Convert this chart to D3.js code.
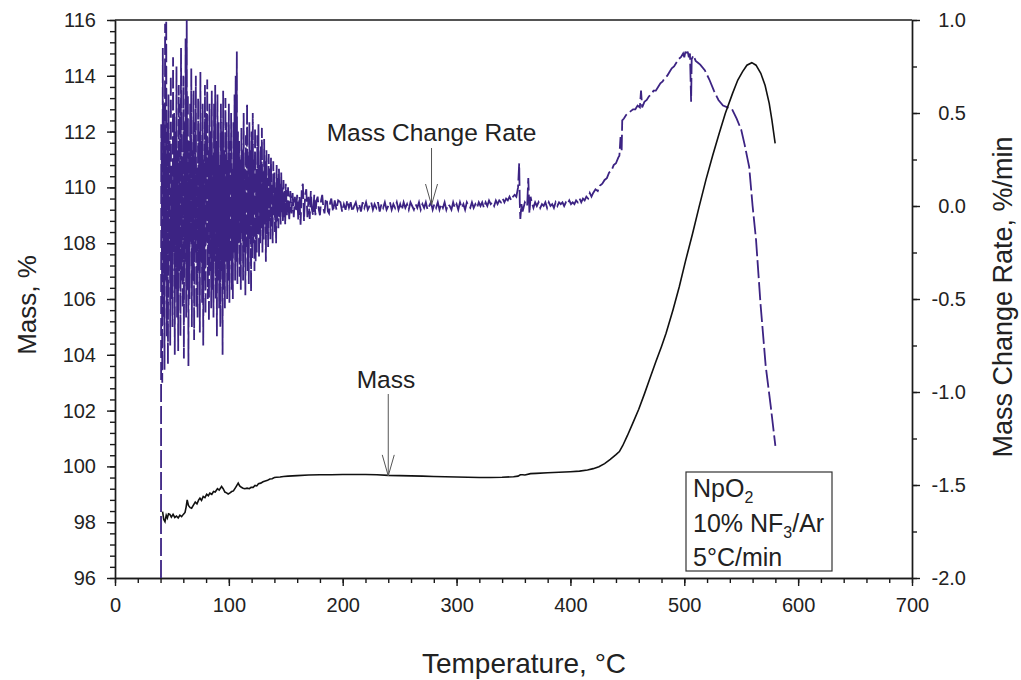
<!DOCTYPE html>
<html>
<head>
<meta charset="utf-8">
<script src="https://cdn.jsdelivr.net/npm/d3@7"></script>
<style>
  body { margin: 0; background: #fff; }
  svg { font-family: Arial, "Liberation Sans", sans-serif; }
  .axis path, .axis line { stroke: #1a1a1a; stroke-width: 1.4px; }
  .axis text { font-size: 20px; fill: #222; font-family: Arial, "Liberation Sans", sans-serif; }
</style>
</head>
<body>
<div id="chart"></div>
<script>
// temperature (°C), mass (%)
const massData = [
  [41.8, 98.38], [42.8, 98.10], [43.9, 98.02], [45, 98.25], [46, 98.15], [47, 98.30], [48.2, 98.28],
  [49.5, 98.18], [51, 98.28], [52.5, 98.17], [54, 98.22], [55.5, 98.15], [57, 98.25], [58.5, 98.20],
  [60, 98.28], [61.5, 98.35], [62.5, 98.55], [63.4, 98.80], [64.5, 98.60], [66, 98.52], [67.3, 98.50],
  [69, 98.62], [70.5, 98.72], [72, 98.66], [73.5, 98.80], [74.6, 98.86], [76, 98.78], [77.5, 98.92],
  [79, 98.88], [80.5, 99.00], [82, 98.95], [83.3, 99.04], [85, 99.00], [86.5, 99.10], [88, 99.08],
  [90, 99.20], [91.5, 99.15], [93.6, 99.28], [95, 99.20], [96.5, 99.08], [98, 99.05], [99.4, 99.01],
  [101, 99.05], [102.5, 99.10], [104, 99.12], [106, 99.25], [108.2, 99.40], [109.5, 99.30], [111, 99.25],
  [112.5, 99.22], [114, 99.20], [116, 99.22], [118, 99.20], [119.5, 99.25], [121.3, 99.25], [123, 99.32],
  [124.5, 99.30], [126, 99.38], [128, 99.40], [130, 99.45], [132, 99.48], [134, 99.50], [136, 99.55],
  [138, 99.56], [140, 99.60], [142, 99.61], [145, 99.62], [148, 99.64], [152, 99.65], [156, 99.66],
  [160, 99.67], [170, 99.69], [180, 99.70], [190, 99.70], [200, 99.71], [210, 99.71], [220, 99.71],
  [230, 99.70], [240, 99.68], [250, 99.67], [260, 99.66], [270, 99.65], [280, 99.64], [290, 99.63],
  [300, 99.62], [310, 99.61], [320, 99.60], [330, 99.60], [340, 99.61], [350, 99.63], [354, 99.65],
  [356, 99.70], [358, 99.70], [360, 99.69], [365, 99.74], [370, 99.75], [380, 99.77], [390, 99.79],
  [400, 99.81], [408, 99.83], [415, 99.87], [420, 99.92], [425, 99.99], [430, 100.10], [435, 100.25],
  [440, 100.42], [443, 100.53], [446, 100.75], [450, 101.10], [454.7, 101.54], [460, 102.05],
  [465, 102.60], [469.3, 103.10], [475, 103.75], [480, 104.30], [484, 104.77], [490, 105.60],
  [495.6, 106.44], [501, 107.35], [507.3, 108.35], [513, 109.30], [519, 110.27], [525, 111.15],
  [530.7, 111.94], [536, 112.65], [542.4, 113.37], [547, 113.85], [551.2, 114.15], [555, 114.38],
  [559.3, 114.47], [563, 114.38], [567.2, 114.09], [571, 113.65], [574.6, 113.01], [577, 112.40],
  [579.8, 111.58]
];

// temperature (°C), mass change rate (%/min) - noisy start
const rateNoise = [
  [40.4, -2.0], [40.6, 0.44], [41, 0.30], [41.5, -0.95], [42, 0.85], [42.5, -0.60], [43, 0.55], [43.5, -0.88],
  [44, 0.98], [44.5, -0.40], [45, 1.00], [45.5, -0.70], [46, 0.45], [46.5, -0.85], [47, 0.60], [47.5, -0.30],
  [48, 0.35], [48.5, -0.75], [49, 0.70], [49.5, -0.50], [50, 0.20], [50.5, -0.65], [51, 0.80], [51.5, -0.25],
  [52, 0.50], [52.5, -0.80], [53, 0.40], [53.5, -0.45], [54, 0.75], [54.5, -0.60], [55, 0.30], [55.5, -0.78],
  [56, 0.65], [56.5, -0.35], [57, 0.55], [57.5, -0.70], [58, 0.85], [58.5, -0.40], [59, 0.25], [59.5, -0.55],
  [60, 0.70], [60.5, -0.82], [61, 0.45], [61.5, -0.30], [62, 0.90], [62.5, -0.60], [63, 1.00], [63.5, -0.45],
  [64, 0.60], [64.5, -0.86], [65, 0.35], [65.5, -0.50], [66, 0.55], [66.5, -0.20], [67, 0.74], [67.5, -0.65],
  [68, 0.30], [68.5, -0.40], [69, 0.62], [69.5, -0.72], [70, 0.45], [70.5, -0.25], [71, 0.70], [71.5, -0.55],
  [72, 0.20], [72.5, -0.60], [73, 0.58], [73.5, -0.35], [74, 0.40], [74.5, -0.68], [75, 0.72], [75.5, -0.30],
  [76, 0.35], [76.5, -0.52], [77, 0.55], [77.5, -0.75], [78, 0.25], [78.5, -0.40], [79, 0.65], [79.5, -0.58],
  [80, 0.50], [80.5, -0.20], [81, 0.68], [81.5, -0.50], [82, 0.30], [82.5, -0.62], [83, 0.55], [83.5, -0.35],
  [84, 0.40], [84.5, -0.55], [85, 0.62], [85.5, -0.45], [86, 0.28], [86.5, -0.60], [87, 0.55], [87.5, -0.30],
  [88, 0.65], [88.5, -0.50], [89, 0.35], [89.5, -0.70], [90, 0.60], [90.5, -0.40], [91, 0.45], [91.5, -0.55],
  [92, 0.22], [92.5, -0.65], [93, 0.55], [93.5, -0.35], [94, 0.40], [94.5, -0.80], [95, 0.62], [95.5, -0.45],
  [96, 0.30], [96.5, -0.55], [97, 0.58], [97.5, -0.30], [98, 0.45], [98.5, -0.50], [99, 0.25], [99.5, -0.40],
  [100, 0.55], [100.5, -0.52], [101, 0.35], [101.5, -0.30], [102, 0.50], [102.5, -0.45], [103, 0.20], [103.5, -0.50],
  [104, 0.45], [104.5, -0.25], [105, 0.60], [105.5, -0.40], [106, 0.70], [106.5, -0.30], [107, 0.83], [107.5, -0.42],
  [108, 0.40], [108.5, -0.20], [109, 0.35], [109.5, -0.38], [110, 0.25], [110.5, -0.45], [111, 0.42], [111.5, -0.15],
  [112, 0.30], [112.5, -0.40], [113, 0.50], [113.5, -0.25], [114, 0.20], [114.5, -0.48], [115, 0.38], [115.5, -0.22],
  [116, 0.55], [116.5, -0.35], [117, 0.28], [117.5, -0.42], [118, 0.45], [118.5, -0.18], [119, 0.30], [119.5, -0.46],
  [120, 0.40], [120.5, -0.28], [121, 0.50], [121.5, -0.20], [122, 0.25], [122.5, -0.35], [123, 0.42], [123.5, -0.30],
  [124, 0.20], [124.5, -0.25], [125, 0.38], [125.5, -0.15], [126, 0.44], [126.5, -0.28], [127, 0.22], [127.5, -0.20],
  [128, 0.32], [128.5, -0.12], [129, 0.42], [129.5, -0.25], [130, 0.18], [130.5, -0.18], [131, 0.36], [131.5, -0.10],
  [132, 0.24], [132.5, -0.30], [133, 0.30], [133.5, -0.15], [134, 0.15], [134.5, -0.22], [135, 0.28], [135.5, -0.08],
  [136, 0.20], [136.5, -0.18], [137, 0.26], [137.5, -0.12], [138, 0.12], [138.5, -0.20], [139, 0.24], [139.5, -0.05],
  [140, 0.18], [140.5, -0.14], [141, 0.10], [141.5, -0.20], [142, 0.22], [142.5, -0.08], [143, 0.15], [143.5, -0.12],
  [144, 0.20], [144.5, -0.06], [145, 0.12], [145.5, -0.10], [146, 0.18], [146.5, -0.04], [147, 0.10], [147.5, -0.08],
  [148, 0.14], [148.5, -0.06], [149, 0.08], [149.5, -0.10], [150, 0.12], [151, -0.05], [152, 0.10], [153, -0.08],
  [154, 0.08], [155, -0.04], [156, 0.07], [157, -0.06], [158, 0.05], [159, -0.03], [160, 0.06], [161, -0.08],
  [162, 0.05], [163, -0.10], [164, 0.09], [165, 0.12], [166, -0.08], [167, 0.06], [168, 0.09], [169, -0.06],
  [170, 0.05], [171, -0.07], [172, 0.08], [173, -0.02], [174, -0.05], [175, 0.06], [176, -0.05], [177, 0.03],
  [178, 0.05], [179, -0.02], [180, -0.05], [181, 0.03], [182, 0.06], [183, -0.01], [184, -0.04], [185, 0.03],
  [186, 0.04], [187, -0.03], [188, -0.04], [189, 0.02], [190, 0.04], [191.5, -0.03], [193, 0.03], [194.5, -0.02],
  [196, 0.03]
];

// temperature (°C), mass change rate (%/min) - flat run, spikes and the reaction peak
const rateMain = [
  [198, 0.02], [199.5, -0.03], [201, 0.01], [202.5, -0.02], [204, 0.03], [205.5, -0.01], [207, 0.02], [208.5, -0.03],
  [210, 0.00], [211.5, 0.02], [213, -0.02], [214.5, 0.01], [216, -0.03], [217.5, 0.02], [219, -0.01], [220.5, 0.02],
  [222, -0.02], [223.5, 0.00], [225, 0.02], [226.5, -0.02], [228, 0.01], [229.5, -0.01], [231, 0.02], [232.5, -0.03],
  [234, 0.01], [235.5, -0.01], [237, 0.02], [238.5, -0.02], [240, 0.00], [241.5, 0.02], [243, -0.02], [244.5, 0.01],
  [246, -0.01], [247.5, 0.02], [249, -0.02], [250.5, 0.01], [252, -0.02], [253.5, 0.02], [255, -0.01], [256.5, 0.01],
  [258, -0.02], [259.5, 0.02], [261, 0.00], [262.5, -0.02], [264, 0.01], [265.5, -0.01], [267, 0.02], [268.5, -0.02],
  [270, 0.01], [271.5, -0.01], [273, 0.02], [274.5, -0.02], [276, 0.00], [277.5, 0.02], [279, -0.02], [280.5, 0.01],
  [282, -0.01], [283.5, 0.02], [285, -0.02], [286.5, 0.01], [288, -0.01], [289.5, 0.02], [291, -0.02], [292.5, 0.01],
  [294, 0.00], [295.5, -0.02], [297, 0.02], [298.5, -0.01], [300, 0.01], [301.5, -0.02], [303, 0.02], [304.5, -0.01],
  [306, 0.01], [307.5, -0.02], [309, 0.02], [310.5, 0.00], [312, -0.01], [313.5, 0.02], [315, -0.01], [316.5, 0.01],
  [318, -0.01], [319.5, 0.02], [321, 0.00], [322.5, 0.02], [324, -0.01], [325.5, 0.02], [327, 0.00], [328.5, 0.03],
  [330, 0.01], [331.5, 0.02], [333, 0.00], [334.5, 0.03], [336, 0.01], [337.5, 0.03], [339, 0.02], [340.5, 0.04],
  [342, 0.02], [343.5, 0.04], [345, 0.03], [346.5, 0.05], [348, 0.03], [349.5, 0.05], [351, 0.06], [352.5, 0.05],
  [354, 0.10], [355, 0.23], [355.5, 0.02], [356, -0.07], [357, 0.01], [358, -0.03], [360, 0.02], [362, 0.00],
  [363, 0.15], [364, -0.04], [365, 0.05], [366, 0.02], [367.5, -0.01], [369, 0.02], [370.5, 0.00], [372, 0.02],
  [373.5, -0.01], [375, 0.01], [376.5, 0.00], [378, 0.02], [379.5, -0.01], [381, 0.02], [382.5, 0.00], [384, 0.01],
  [385.5, -0.01], [387, 0.02], [388.5, 0.00], [390, 0.02], [391.5, 0.01], [393, 0.02], [394.5, 0.00], [396, 0.02],
  [397.5, 0.01], [399, 0.03], [400.5, 0.01], [402, 0.02], [403.5, 0.01], [405, 0.03], [406.5, 0.02], [408, 0.04],
  [409.5, 0.02], [411, 0.04], [412.5, 0.03], [414, 0.05], [415.5, 0.04], [417, 0.07], [418.5, 0.05], [420, 0.07],
  [422, 0.09], [424, 0.08], [426, 0.11], [428, 0.12], [430, 0.14], [432, 0.15], [434, 0.18], [436, 0.19],
  [438, 0.22], [440, 0.23], [442, 0.26], [443, 0.27], [444, 0.37], [445, 0.30], [445.5, 0.46], [447, 0.47],
  [449, 0.49], [451, 0.50], [453, 0.51], [455, 0.52], [457, 0.52], [459, 0.54], [461, 0.53], [462, 0.62],
  [463, 0.53], [465, 0.56], [467, 0.57], [469, 0.59], [471, 0.60], [473, 0.62], [475, 0.62], [477, 0.64],
  [479, 0.66], [481, 0.67], [483, 0.69], [485, 0.70], [487, 0.72], [489, 0.74], [491, 0.75], [493, 0.77],
  [495, 0.79], [497, 0.80], [499, 0.82], [500, 0.80], [501, 0.83], [502, 0.81], [503, 0.83], [504, 0.80],
  [505, 0.82], [506, 0.56], [506.5, 0.79], [508, 0.81], [510, 0.78], [512, 0.77], [514, 0.76], [518, 0.73],
  [522, 0.68], [526, 0.62], [530, 0.57], [534, 0.54], [538, 0.53], [542, 0.52], [546, 0.47], [550, 0.41],
  [553, 0.33], [556, 0.24], [557, 0.21], [560, 0.00], [563, -0.18], [567, -0.53], [571.5, -0.86], [576, -1.08],
  [580, -1.29]
];

const xTicks = [0, 100, 200, 300, 400, 500, 600, 700];
const massTicks = [96, 98, 100, 102, 104, 106, 108, 110, 112, 114, 116];
const rateTicks = [-2.0, -1.5, -1.0, -0.5, 0.0, 0.5, 1.0];
const legendLines = [["NpO", "2", ""], ["10% NF", "3", "/Ar"], ["5°C/min", "", ""]];

const W = 1021, H = 680;
const plotL = 115, plotR = 912, plotT = 20, plotB = 578;

const svg = d3.select('#chart').append('svg')
  .attr('width', W)
  .attr('height', H);

const x = d3.scaleLinear().domain([0, 700]).range([plotL, plotR]);
const yMass = d3.scaleLinear().domain([96, 116]).range([plotB, plotT]);
const yRate = d3.scaleLinear().domain([-2, 1]).range([plotB, plotT]);

svg.append('clipPath').attr('id', 'plot-clip')
  .append('rect')
  .attr('x', plotL).attr('y', plotT)
  .attr('width', plotR - plotL).attr('height', plotB - plotT);

// minor ticks
svg.append('g').attr('class', 'axis')
  .attr('transform', `translate(0,${plotB})`)
  .call(d3.axisBottom(x).tickValues(d3.range(0, 701, 20)).tickSize(5).tickSizeOuter(0).tickFormat(''));
svg.append('g').attr('class', 'axis')
  .attr('transform', `translate(${plotL},0)`)
  .call(d3.axisLeft(yMass).tickValues(d3.range(96, 116.01, 0.4)).tickSize(5).tickSizeOuter(0).tickFormat(''));
svg.append('g').attr('class', 'axis')
  .attr('transform', `translate(${plotR},0)`)
  .call(d3.axisRight(yRate).tickValues(d3.range(-2, 1.01, 0.25)).tickSize(5).tickSizeOuter(0).tickFormat(''));

// major ticks
const xAxis = svg.append('g').attr('class', 'axis')
  .attr('transform', `translate(0,${plotB})`)
  .call(d3.axisBottom(x).tickValues(xTicks).tickSize(8).tickSizeOuter(0).tickPadding(12));
xAxis.selectAll('text').attr('dy', '0.71em');

svg.append('g').attr('class', 'axis')
  .attr('transform', `translate(${plotL},0)`)
  .call(d3.axisLeft(yMass).tickValues(massTicks).tickSize(8).tickSizeOuter(0).tickPadding(11).tickFormat(d3.format('d')));

svg.append('g').attr('class', 'axis')
  .attr('transform', `translate(${plotR},0)`)
  .call(d3.axisRight(yRate).tickValues(rateTicks).tickSize(8).tickSizeOuter(0).tickPadding(0)
    .tickFormat(d => d.toFixed(1)))
  .selectAll('text')
  .attr('text-anchor', 'end')
  .attr('x', 54);

// top frame line
svg.append('line')
  .attr('x1', plotL).attr('x2', plotR)
  .attr('y1', plotT).attr('y2', plotT)
  .attr('stroke', '#1a1a1a').attr('stroke-width', 1.4);

const plot = svg.append('g').attr('clip-path', 'url(#plot-clip)');

const massLine = d3.line().x(d => x(d[0])).y(d => yMass(d[1]));
const rateLine = d3.line().x(d => x(d[0])).y(d => yRate(d[1]));

plot.append('path')
  .datum(rateNoise.concat(rateMain))
  .attr('d', rateLine)
  .attr('fill', 'none')
  .attr('stroke', '#3c2383')
  .attr('stroke-width', 1.8)
  .attr('stroke-dasharray', '18,4');

plot.append('path')
  .datum(massData)
  .attr('d', massLine)
  .attr('fill', 'none')
  .attr('stroke', '#111')
  .attr('stroke-width', 1.6);

// annotations
function arrow(xp, y1, y2) {
  svg.append('line')
    .attr('x1', xp).attr('x2', xp).attr('y1', y1).attr('y2', y2)
    .attr('stroke', '#555').attr('stroke-width', 1);
  svg.append('path')
    .attr('d', `M${xp - 6},${y2 - 21}L${xp},${y2}L${xp + 6},${y2 - 21}`)
    .attr('fill', 'none').attr('stroke', '#555').attr('stroke-width', 1);
}

svg.append('text')
  .attr('x', x(278)).attr('y', 141)
  .attr('text-anchor', 'middle')
  .attr('font-size', 24.5).attr('fill', '#222')
  .text('Mass Change Rate');
arrow(x(278), 148, yRate(0.0) - 1);

svg.append('text')
  .attr('x', x(238)).attr('y', 388)
  .attr('text-anchor', 'middle')
  .attr('font-size', 24.5).attr('fill', '#222')
  .text('Mass');
arrow(x(240), 394, yMass(99.66));

// legend box
svg.append('rect')
  .attr('x', 686).attr('y', 472)
  .attr('width', 146).attr('height', 99)
  .attr('fill', '#fff').attr('stroke', '#333').attr('stroke-width', 1.2);

legendLines.forEach((parts, i) => {
  const t = svg.append('text')
    .attr('x', 693).attr('y', 497 + i * 34.5)
    .attr('font-size', 25).attr('fill', '#222');
  t.append('tspan').text(parts[0]);
  if (parts[1]) {
    t.append('tspan').attr('font-size', 16).attr('dy', 6).text(parts[1]);
    t.append('tspan').attr('dy', -6).text(parts[2]);
  }
});

// axis titles
svg.append('text')
  .attr('x', 524).attr('y', 673)
  .attr('text-anchor', 'middle')
  .attr('font-size', 28).attr('fill', '#222')
  .text('Temperature, °C');

svg.append('text')
  .attr('transform', `translate(36,305) rotate(-90)`)
  .attr('text-anchor', 'middle')
  .attr('font-size', 26).attr('fill', '#222')
  .text('Mass, %');

svg.append('text')
  .attr('transform', `translate(1012,297) rotate(-90)`)
  .attr('text-anchor', 'middle')
  .attr('font-size', 27).attr('fill', '#222')
  .text('Mass Change Rate, %/min');
</script>
</body>
</html>
